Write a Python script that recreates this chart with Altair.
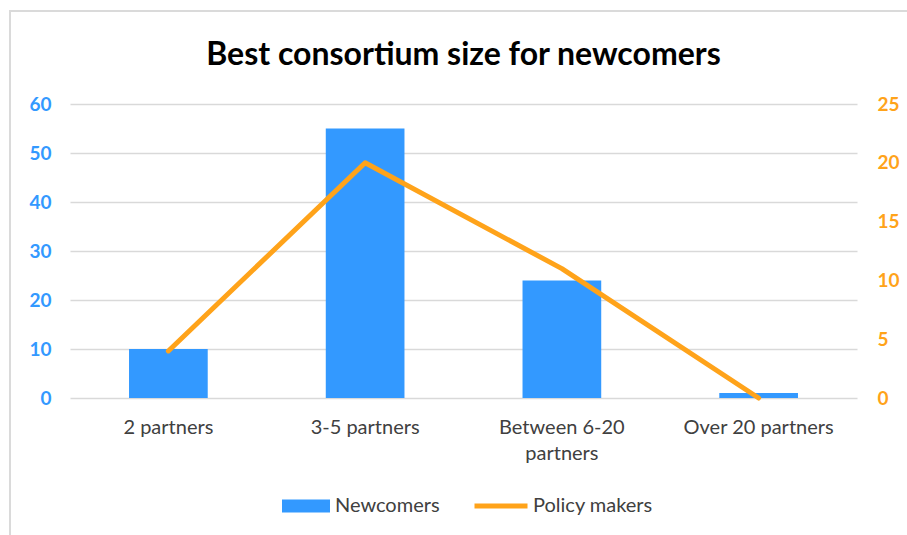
import altair as alt
import pandas as pd

categories = ["2 partners", "3-5 partners", "Between 6-20 partners", "Over 20 partners"]
newcomers = [10, 55, 24, 1]
policy_makers = [4, 20, 11, 0]
left_ticks = [0, 10, 20, 30, 40, 50, 60]
right_ticks = [0, 5, 10, 15, 20, 25]

df = pd.DataFrame({"category": categories, "Newcomers": newcomers, "Policy makers": policy_makers})

BLUE = "#3399FF"
ORANGE = "#FFA31A"
FONT = "Lato"

x_enc = alt.X(
    "category:N", sort=categories,
    scale=alt.Scale(paddingInner=0.6, paddingOuter=0.3),
    axis=alt.Axis(
        title=None, labelAngle=0, domain=False, ticks=False, grid=False,
        labelFont=FONT, labelFontSize=20, labelColor="#404040", labelPadding=19,
        labelExpr="datum.label == 'Between 6-20 partners' ? ['Between 6-20', 'partners'] : datum.label",
        labelLineHeight=26, labelLimit=0, labelOverlap=False,
    ),
)

bars = alt.Chart(df).transform_calculate(series="'Newcomers'").mark_bar(color=BLUE).encode(
    x=x_enc,
    y=alt.Y("Newcomers:Q", scale=alt.Scale(domain=[0, 60], nice=False),
            axis=alt.Axis(orient="left", values=left_ticks, title=None, domain=False, ticks=False,
                          grid=True, gridColor="#D9D9D9", gridWidth=1.3,
                          labelFont=FONT, labelFontSize=19, labelFontWeight="bold",
                          labelColor=BLUE, labelPadding=19)),
    color=alt.Color("series:N", scale=alt.Scale(domain=["Newcomers"], range=[BLUE]),
                    legend=alt.Legend(title=None, orient="none", legendX=212, legendY=378,
                                      symbolType="M-1,-0.27L1,-0.27L1,0.27L-1,0.27Z",
                                      symbolSize=2304, symbolStrokeWidth=0, symbolOpacity=1,
                                      labelFont=FONT, labelFontSize=20, labelColor="#404040",
                                      labelOffset=5, padding=0)),
)

line = alt.Chart(df).transform_calculate(series2="'Policy makers'").mark_line(
    strokeWidth=5, strokeCap="round", strokeJoin="round"
).encode(
    x=x_enc,
    y=alt.Y("Policy makers:Q", scale=alt.Scale(domain=[0, 25], nice=False),
            axis=alt.Axis(orient="right", values=right_ticks, title=None, domain=False, ticks=False,
                          grid=False, labelFont=FONT, labelFontSize=19, labelFontWeight="bold",
                          labelColor=ORANGE, labelPadding=20)),
    stroke=alt.Stroke("series2:N", scale=alt.Scale(domain=["Policy makers"], range=[ORANGE]),
                      legend=alt.Legend(title=None, orient="none", legendX=402, legendY=373,
                                        symbolType="stroke", symbolSize=2809, symbolStrokeWidth=5,
                                        labelFont=FONT, labelFontSize=20, labelColor="#404040",
                                        labelOffset=3, padding=0)),
)

border_df = pd.DataFrame({"k": [0]})
left_border = alt.Chart(border_df).mark_rule(color="#DADADA", strokeWidth=2).encode(
    x=alt.value(-60), y=alt.value(-93), y2=alt.value(440))
top_border = alt.Chart(border_df).mark_rule(color="#DADADA", strokeWidth=2).encode(
    x=alt.value(-61), x2=alt.value(850), y=alt.value(-93))

chart = alt.layer(bars, line, left_border, top_border).resolve_scale(
    y="independent"
).properties(
    width=787, height=294,
    autosize=alt.AutoSizeParams(type="none"),
    padding={"left": 70, "top": 104, "right": 50, "bottom": 137},
    background="white",
    title=alt.Title("Best consortium size for newcomers", font=FONT, fontSize=32,
                    fontWeight="bold", color="#000000", anchor="middle", offset=-62),
).configure_view(stroke=None)

chart.save("out.html", embed_options={"renderer": "svg", "actions": False})
